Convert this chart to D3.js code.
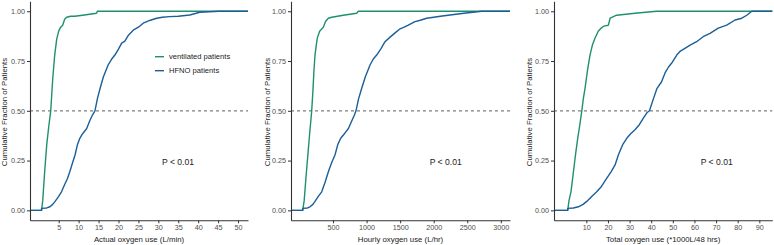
<!DOCTYPE html>
<html><head><meta charset="utf-8">
<script src="https://cdn.jsdelivr.net/npm/d3@7"></script>
<style>body{margin:0;background:#fff;}svg{display:block;font-family:"Liberation Sans",Arial,sans-serif;}</style>
</head><body><svg id="c" width="774" height="245"></svg>
<script>
// ---- data ----
const seriesNames = ["ventilated patients", "HFNO patients"];
const yTicks = [0, 0.25, 0.5, 0.75, 1];

// Panel 1: Actual oxygen use (L/min)
const p1Ticks = [5,10,15,20,25,30,35,40,45,50];
const p1VentX = [0.7,1.0,1.5,2.0,2.5,3.0,3.5,4.0,4.5,5.0,5.5,6.0,6.5,7.0,8,9,11,14.5,14.7];
const p1VentY = [0,0.05,0.2,0.33,0.42,0.5,0.66,0.78,0.86,0.9,0.92,0.93,0.96,0.97,0.975,0.975,0.98,0.99,1.0];
const p1HfnoX = [0.7,0.7,2.0,2.8,3.5,4.1,5,5.7,6.5,7.2,7.8,8.5,9.1,9.7,10.3,11,12,12.8,13.5,14.1,14.7,15.4,16.2,17.4,18.3,19.1,20,20.8,21.6,22.5,23.7,25,26.2,28,29.6,31,32.9,35,37.9,40.4,45.2];
const p1HfnoY = [0,0.01,0.012,0.018,0.03,0.045,0.07,0.093,0.13,0.16,0.195,0.24,0.278,0.33,0.362,0.385,0.41,0.45,0.48,0.5,0.56,0.613,0.67,0.73,0.76,0.78,0.81,0.84,0.85,0.88,0.905,0.92,0.94,0.955,0.965,0.97,0.973,0.975,0.981,0.995,1.0];

// Panel 2: Hourly oxygen use (L/hr)
const p2Ticks = [500,1000,1500,2000,2500,3000];
const p2VentX = [48,70,100,130,150,182,200,215,231,250,265,300,355,390,430,480,653,852,877];
const p2VentY = [0,0.05,0.18,0.3,0.38,0.5,0.6,0.7,0.78,0.83,0.865,0.9,0.92,0.95,0.965,0.97,0.98,0.99,1.0];
const p2HfnoX = [48,48,120,156,200,231,280,331,380,430,480,529,570,614,670,727,780,820,842,880,927,980,1051,1100,1150,1210,1274,1350,1420,1490,1560,1621,1721,1800,1896,2000,2100,2243,2450,2715];
const p2HfnoY = [0,0.01,0.012,0.018,0.03,0.045,0.07,0.093,0.14,0.194,0.24,0.278,0.33,0.362,0.385,0.41,0.45,0.48,0.5,0.56,0.613,0.67,0.73,0.76,0.78,0.81,0.847,0.87,0.89,0.91,0.92,0.93,0.948,0.955,0.965,0.97,0.975,0.981,0.99,1.0];

// Panel 3: Total oxygen use (*1000L/48 hrs)
const p3Ticks = [10,20,30,40,50,60,70,80,90];
const p3VentX = [1.4,2.0,2.9,4.0,5,6,7,7.9,8.6,9.4,10.5,11.7,12.8,14,15.5,16.8,18,20.2,21,24,32.5,42.5];
const p3VentY = [0,0.05,0.093,0.19,0.28,0.36,0.43,0.5,0.56,0.613,0.7,0.78,0.83,0.864,0.9,0.915,0.925,0.93,0.965,0.98,0.99,1.0];
const p3HfnoX = [1.4,1.4,4,6.3,8.5,10.2,12.5,14.8,17,19.4,21.5,23.3,24.8,26.8,28.7,30.5,32.5,34.5,36.3,38,39.2,41,42.7,44.8,46.4,48,49.5,51.8,53.5,55.6,58,61,64,67.2,71,74.9,78.8,81.9,84.2,86.5];
const p3HfnoY = [0,0.01,0.012,0.018,0.03,0.045,0.07,0.093,0.12,0.16,0.194,0.228,0.278,0.33,0.362,0.385,0.405,0.43,0.462,0.49,0.5,0.56,0.613,0.646,0.69,0.72,0.74,0.78,0.8,0.814,0.83,0.847,0.872,0.889,0.915,0.93,0.956,0.965,0.98,1.0];

const colors = ["#1e9070", "#1b5e98"];

const panels = [
  {x0:30, x1:248, dom:[-2.2,52.5], ticks:p1Ticks, title:"Actual oxygen use (L/min)", vent:[p1VentX,p1VentY], hfno:[p1HfnoX,p1HfnoY], ylabX:4.7, pX:178, legend:true},
  {x0:291, x1:510, dom:[-126.7,3137], ticks:p2Ticks, title:"Hourly oxygen use (L/hr)", vent:[p2VentX,p2VentY], hfno:[p2HfnoX,p2HfnoY], ylabX:267, pX:445.7},
  {x0:554, x1:772.3, dom:[-4.95,96], ticks:p3Ticks, title:"Total oxygen use (*1000L/48 hrs)", vent:[p3VentX,p3VentY], hfno:[p3HfnoX,p3HfnoY], ylabX:529, pX:716.7}
];

const svg = d3.select("#c");
const y = d3.scaleLinear().domain([-0.05,1.05]).range([220.3,1.3]);

panels.forEach(p => {
  const x = d3.scaleLinear().domain(p.dom).range([p.x0,p.x1]);
  const g = svg.append("g");

  // dashed median line
  g.append("line").attr("x1",p.x0).attr("x2",p.x1).attr("y1",y(0.5)).attr("y2",y(0.5))
    .attr("stroke","#7f7f7f").attr("stroke-width",1.2).attr("stroke-dasharray","3,3");

  const line = d3.line().x(d=>x(d[0])).y(d=>y(d[1]));
  [p.vent, p.hfno].forEach((s,i) => {
    const pts = s[0].map((v,k)=>[v,s[1][k]]);
    pts.unshift([p.dom[0],0]);
    pts.push([p.dom[1],1]);
    g.append("path").attr("d",line(pts)).attr("fill","none")
      .attr("stroke",colors[i]).attr("stroke-width",1.4).attr("stroke-linejoin","round");
  });

  // axes
  const ax = g.append("g").attr("transform",`translate(0,${y(-0.05)})`)
    .call(d3.axisBottom(x).tickValues(p.ticks).tickFormat(d3.format("d")).tickSize(3).tickPadding(2).tickSizeOuter(0));
  const ay = g.append("g").attr("transform",`translate(${p.x0},0)`)
    .call(d3.axisLeft(y).tickValues(yTicks).tickFormat(d3.format(".2f")).tickSize(3).tickPadding(2).tickSizeOuter(0));
  [ax,ay].forEach(a=>{
    a.select(".domain").attr("stroke","#333").attr("stroke-width",1.1);
    a.selectAll(".tick line").attr("stroke","#333");
    a.selectAll(".tick text").attr("fill","#4d4d4d").attr("font-size",7.2).attr("font-family","Liberation Sans, Arial, sans-serif");
  });

  g.append("text").attr("x",(p.x0+p.x1)/2).attr("y",242).attr("text-anchor","middle")
    .attr("font-size",7.8).attr("fill","#222").text(p.title);
  g.append("text").attr("transform",`translate(${p.ylabX+2.7},${112}) rotate(-90)`)
    .attr("text-anchor","middle").attr("font-size",7.8).attr("fill","#222").text("Cumulative Fraction of Patients");
  g.append("text").attr("x",p.pX).attr("y",165).attr("text-anchor","middle")
    .attr("font-size",8.6).attr("fill","#222").text("P < 0.01");

  if (p.legend) {
    seriesNames.forEach((n,i)=>{
      const ly = 56.7 + i*14;
      g.append("line").attr("x1",155).attr("x2",164).attr("y1",ly).attr("y2",ly)
        .attr("stroke",colors[i]).attr("stroke-width",1.4);
      g.append("text").attr("x",169).attr("y",ly+2.6).attr("font-size",7.6).attr("fill","#222").text(n);
    });
  }
});
</script></body></html>
